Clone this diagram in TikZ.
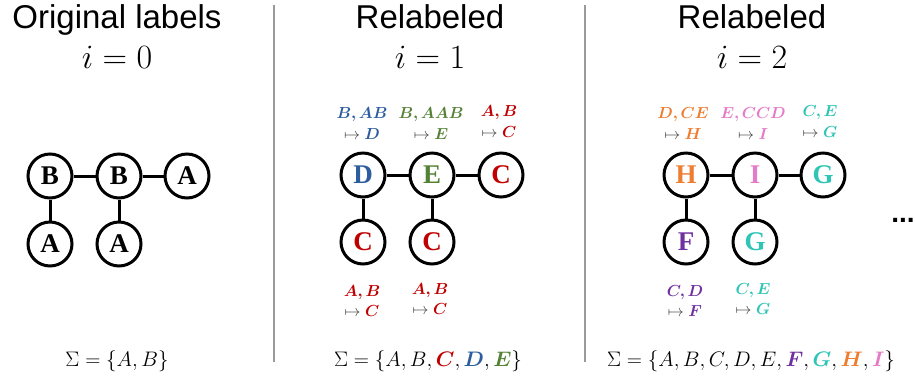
\RequirePackage{fix-cm}
\documentclass[tikz,border=0pt]{standalone}
\usepackage{amsmath}
\usepackage{bm}
\usepackage{fontspec}
\newfontfamily\titlefont{Liberation Sans}
\newfontfamily\nodefont{Liberation Serif}
\definecolor{cblue}{HTML}{2E5D9F}
\definecolor{cgreen}{HTML}{548235}
\definecolor{cred}{HTML}{C00000}
\definecolor{corange}{HTML}{ED7D31}
\definecolor{cpink}{HTML}{E57AC8}
\definecolor{cteal}{HTML}{2EC4B6}
\definecolor{cpurple}{HTML}{7030A0}
\definecolor{csep}{HTML}{9A9A9A}
\begin{document}
\begin{tikzpicture}[x=1pt,y=-1pt,
  vert/.style={circle, draw, line width=3pt, minimum size=44pt, inner sep=0pt,
    font=\nodefont\bfseries\fontsize{27}{27}\selectfont},
  edge/.style={line width=3pt},
  title/.style={font=\titlefont\fontsize{33}{36}\selectfont, anchor=base, inner sep=0pt},
  itext/.style={font=\fontsize{34}{38}\selectfont, anchor=base, inner sep=0pt},
  lbl/.style={font=\fontsize{16}{18}\selectfont, anchor=base, inner sep=0pt},
  maplbl/.style={font=\fontsize{16}{18}\selectfont, anchor=base, inner sep=0pt, text=black!75},
  sig/.style={font=\fontsize{21}{24}\selectfont, anchor=base, inner sep=0pt},
  sep/.style={line width=2pt, draw=csep}]
\path[use as bounding box] (0,0) rectangle (915,376);

% separators
\coordinate (s1t) at (274,5); \coordinate (s1b) at (274,362);
\coordinate (s2t) at (585,5); \coordinate (s2b) at (585,362);
\draw[sep] (s1t) -- (s1b);
\draw[sep] (s2t) -- (s2b);

% titles
\node[title] (t1) at (117,28) {Original labels};
\node[itext] (i1) at (117,68) {$i=0$};
\node[title] (t2) at (430,28) {Relabeled};
\node[itext] (i2) at (430,68) {$i=1$};
\node[title] (t3) at (752,28) {Relabeled};
\node[itext] (i3) at (752,68) {$i=2$};

% panel 1
\node[vert] (b1) at (50,176) {B};
\node[vert] (b2) at (119,176) {B};
\node[vert] (a1) at (187,176) {A};
\node[vert] (a2) at (50,244) {A};
\node[vert] (a3) at (119,244) {A};
\draw[edge] (b1) -- (b2);
\draw[edge] (b2) -- (a1);
\draw[edge] (b1) -- (a2);
\draw[edge] (b2) -- (a3);
\node[sig] (sg1) at (117,366) {$\Sigma=\{A,B\}$};

% panel 2
\node[vert, text=cblue] (d) at (363,175) {D};
\node[vert, text=cgreen] (e) at (432,175) {E};
\node[vert, text=cred] (c1) at (501,175) {C};
\node[vert, text=cred] (c2) at (363,242) {C};
\node[vert, text=cred] (c3) at (432,242) {C};
\draw[edge] (d) -- (e);
\draw[edge] (e) -- (c1);
\draw[edge] (d) -- (c2);
\draw[edge] (e) -- (c3);

\node[lbl, text=cblue] (ld1) at (362,118) {$\bm{B,AB}$};
\node[maplbl] (ld2) at (362,139) {$\mapsto\textcolor{cblue}{\bm{D}}$};
\node[lbl, text=cgreen] (le1) at (431,118) {$\bm{B,AAB}$};
\node[maplbl] (le2) at (431,139) {$\mapsto\textcolor{cgreen}{\bm{E}}$};
\node[lbl, text=cred] (lc1) at (499,116) {$\bm{A,B}$};
\node[maplbl] (lc2) at (499,137) {$\mapsto\textcolor{cred}{\bm{C}}$};
\node[lbl, text=cred] (lc3) at (362,296) {$\bm{A,B}$};
\node[maplbl] (lc4) at (362,316) {$\mapsto\textcolor{cred}{\bm{C}}$};
\node[lbl, text=cred] (lc5) at (430,294) {$\bm{A,B}$};
\node[maplbl] (lc6) at (430,314) {$\mapsto\textcolor{cred}{\bm{C}}$};
\node[sig] (sg2) at (428,366) {$\Sigma=\{A,B,\textcolor{cred}{\bm{C}},\textcolor{cblue}{\bm{D}},\textcolor{cgreen}{\bm{E}}\}$};

% panel 3
\node[vert, text=corange] (h) at (686,175) {H};
\node[vert, text=cpink] (ii) at (755,175) {I};
\node[vert, text=cteal] (g1) at (823,175) {G};
\node[vert, text=cpurple] (f) at (686,242) {F};
\node[vert, text=cteal] (g2) at (755,242) {G};
\draw[edge] (h) -- (ii);
\draw[edge] (ii) -- (g1);
\draw[edge] (h) -- (f);
\draw[edge] (ii) -- (g2);

\node[lbl, text=corange] (lh1) at (683,118) {$\bm{D,CE}$};
\node[maplbl] (lh2) at (683,139) {$\mapsto\textcolor{corange}{\bm{H}}$};
\node[lbl, text=cpink] (li1) at (753,118) {$\bm{E,CCD}$};
\node[maplbl] (li2) at (753,139) {$\mapsto\textcolor{cpink}{\bm{I}}$};
\node[lbl, text=cteal] (lg1) at (820,116) {$\bm{C,E}$};
\node[maplbl] (lg2) at (820,137) {$\mapsto\textcolor{cteal}{\bm{G}}$};
\node[lbl, text=cpurple] (lf1) at (685,296) {$\bm{C,D}$};
\node[maplbl] (lf2) at (685,316) {$\mapsto\textcolor{cpurple}{\bm{F}}$};
\node[lbl, text=cteal] (lg3) at (753,294) {$\bm{C,E}$};
\node[maplbl] (lg4) at (753,314) {$\mapsto\textcolor{cteal}{\bm{G}}$};
\node[sig] (sg3) at (751,366) {$\Sigma=\{A,B,C,D,E,\textcolor{cpurple}{\bm{F}},\textcolor{cteal}{\bm{G}},\textcolor{corange}{\bm{H}},\textcolor{cpink}{\bm{I}}\}$};

\node[title, font=\titlefont\bfseries\fontsize{28}{30}\selectfont] (dots) at (903,222) {...};
\end{tikzpicture}
\end{document}
